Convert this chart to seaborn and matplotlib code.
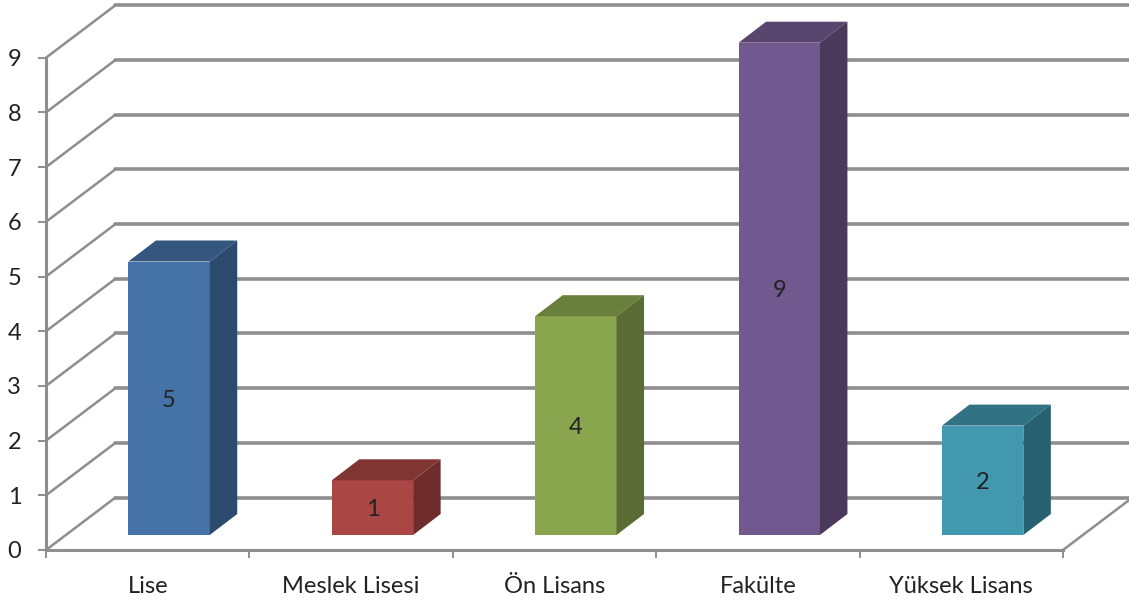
import matplotlib
matplotlib.use("Agg")
import matplotlib.pyplot as plt
import seaborn as sns

categories = ["Lise", "Meslek Lisesi", "Ön Lisans", "Fakülte", "Yüksek Lisans"]
values = [5, 1, 4, 9, 2]
front_colors = ["#4573A7", "#AA4643", "#89A54E", "#71588F", "#4198AF"]
top_colors = ["#34567F", "#803533", "#6A7F3C", "#59466F", "#317284"]
side_colors = ["#2C4A6E", "#6E2D2B", "#5A6B33", "#4A395B", "#286272"]
y_ticks = list(range(10))

sns.set_theme(style="white")
plt.rcParams["font.family"] = ["Lato", "DejaVu Sans"]

W, H = 1129, 602
fig = plt.figure(figsize=(W / 100, H / 100), dpi=100)
ax = fig.add_axes([46 / W, (H - 550) / H, 1017 / W, 492.3 / H])

sns.barplot(x=categories, y=values, hue=categories, palette=front_colors,
            saturation=1, width=0.4, dodge=False, legend=False, ax=ax, zorder=3,
            linewidth=0)
ax.set_xlim(-0.5, 4.5)
ax.set_ylim(0, 9)

# depth of the fake 3d box, in data units
px_x = 5 / 1017
px_y = 9 / 492.3
wall_dx, wall_dy = 69.5 * px_x, 52.5 * px_y
bar_dx, bar_dy = 0.105, 15 * px_y
side_dx, side_dy = 27.5 * px_x, 21 * px_y

grid_col = "#8E8E8E"
for v in y_ticks:
    ax.plot([-0.5, -0.5 + wall_dx], [v, v + wall_dy], color=grid_col, lw=1.8,
            clip_on=False, zorder=1, solid_capstyle="round")
    ax.plot([-0.5 + wall_dx, 4.5 + wall_dx], [v + wall_dy, v + wall_dy],
            color=grid_col, lw=2.6, clip_on=False, zorder=1)
ax.plot([4.5, 4.5 + wall_dx], [0, wall_dy], color=grid_col, lw=1.8, clip_on=False, zorder=1)

bars = list(ax.patches)
for bar, val, top_c, side_c in zip(bars, values, top_colors, side_colors):
    bar.set_x(bar.get_x() + bar_dx)
    bar.set_y(bar_dy)
    bar.set_clip_on(False)
    x0 = bar.get_x()
    x1 = x0 + bar.get_width()
    y0 = bar.get_y()
    y1 = y0 + bar.get_height()
    ax.fill([x0, x1, x1 + side_dx, x0 + side_dx],
            [y1, y1, y1 + side_dy, y1 + side_dy], color=top_c, lw=0, zorder=3, clip_on=False)
    ax.fill([x1, x1 + side_dx, x1 + side_dx, x1],
            [y0, y0 + side_dy, y1 + side_dy, y1], color=side_c, lw=0, zorder=3, clip_on=False)
    ax.text((x0 + x1) / 2, (y0 + y1) / 2, str(val), ha="center", va="center_baseline",
            fontsize=17, color="#222222", zorder=4)

sns.despine(ax=ax)
for name in ["left", "bottom"]:
    ax.spines[name].set_color(grid_col)
    ax.spines[name].set_linewidth(2.2)
    ax.spines[name].set_zorder(2)

ax.set_yticks(y_ticks)
ax.set_xticks(range(len(categories)))
ax.set_xticklabels(categories)
ax.set_xticks([i - 0.5 for i in range(len(categories) + 1)], minor=True)
ax.tick_params(axis="y", left=True, length=5.8, width=1.4, color=grid_col,
               labelsize=17, labelcolor="#222222", pad=12)
ax.tick_params(axis="x", which="major", bottom=False, labelsize=17,
               labelcolor="#222222", pad=13)
ax.tick_params(axis="x", which="minor", bottom=True, length=6, width=1.4, color=grid_col)
ax.grid(False)

fig.savefig("out.png", dpi=100, facecolor="white")
